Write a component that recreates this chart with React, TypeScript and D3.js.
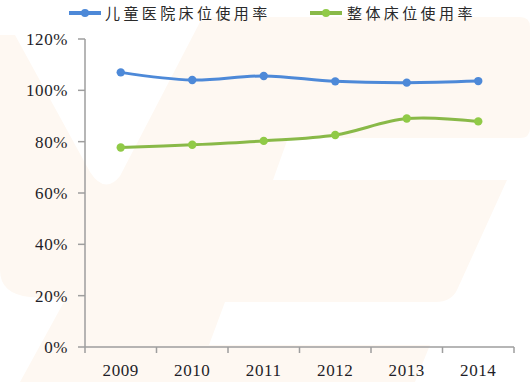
import React from "react";
import * as d3 from "d3";

const years = ["2009", "2010", "2011", "2012", "2013", "2014"];
const childrenHospital = [1.07, 1.04, 1.056, 1.035, 1.03, 1.036];
const overall = [0.777, 0.788, 0.803, 0.826, 0.89, 0.879];
const yTicks = [0, 0.2, 0.4, 0.6, 0.8, 1.0, 1.2];
const seriesNames = ["儿童医院床位使用率", "整体床位使用率"];

const W = 530;
const H = 382;
const left = 85;
const right = 514;
const top = 39;
const bottom = 347;

const BLUE = "#4D89D8";
const GREEN_LINE = "#89B948";
const GREEN_DOT = "#90CA47";

const watermark =
  "M200,22 Q202,17 212,17 L520,17 Q530,17 530,27 L530,128 Q530,138 520,138 L288,138 L273,180 L507,180 L457,290 Q451,302 436,302 L225,302 L209,345 L430,345 L415,382 L20,382 L65,300 L30,297 Q0,294 0,270 L0,35 L15,35 L90,172 Q105,195 120,176 Z";

export default function App() {
  const x = d3.scaleBand<string>().domain(years).range([left, right]).padding(0);
  const y = d3.scaleLinear().domain([0, 1.2]).range([bottom, top]);
  const cx = (yr: string) => (x(yr) as number) + x.bandwidth() / 2;

  const line = d3
    .line<number>()
    .x((_, i) => cx(years[i]))
    .y((v) => y(v))
    .curve(d3.curveCatmullRom.alpha(0.5));

  const boundaries = [...years.map((yr) => x(yr) as number), right];

  const series = [
    { name: seriesNames[0], values: childrenHospital, line: BLUE, dot: BLUE, lx: 69, tx: 105 },
    { name: seriesNames[1], values: overall, line: GREEN_LINE, dot: GREEN_DOT, lx: 310, tx: 347 },
  ];

  return (
    <svg
      width={W}
      height={H}
      style={{ position: "absolute", left: 0, top: 0, background: "#fff" }}
    >
      <path d={watermark} fill="#FEF8F2" />

      {/* legend */}
      {series.map((s) => (
        <g key={s.name}>
          <line x1={s.lx} x2={s.lx + 32} y1={13} y2={13} stroke={s.line} strokeWidth={4} />
          <circle cx={s.lx + 16} cy={13} r={4} fill={s.dot} />
          <text
            x={s.tx}
            y={19}
            fontFamily="'Noto Sans CJK SC', sans-serif"
            fontSize={15}
            letterSpacing={3.4}
            fill="#2A2A2A"
          >
            {s.name}
          </text>
        </g>
      ))}

      {/* y axis */}
      <line x1={left} x2={left} y1={top} y2={bottom} stroke="#9E9E9E" strokeWidth={1.5} />
      {yTicks.map((t) => (
        <g key={t}>
          <line x1={78} x2={left} y1={y(t)} y2={y(t)} stroke="#9E9E9E" strokeWidth={1.5} />
          <text
            x={68}
            y={y(t)}
            dy="0.35em"
            textAnchor="end"
            fontFamily="'Liberation Serif', 'Times New Roman', serif"
            fontSize={17}
            letterSpacing={0.6}
            fill="#1E1E28"
          >
            {`${Math.round(t * 100)}%`}
          </text>
        </g>
      ))}

      {/* x axis */}
      <line x1={left} x2={right} y1={bottom} y2={bottom} stroke="#9E9E9E" strokeWidth={1.5} />
      {boundaries.map((b, i) => (
        <line key={i} x1={b} x2={b} y1={bottom} y2={bottom + 6} stroke="#9E9E9E" strokeWidth={1.5} />
      ))}
      {years.map((yr) => (
        <text
          key={yr}
          x={cx(yr)}
          y={376}
          textAnchor="middle"
          fontFamily="'Liberation Serif', 'Times New Roman', serif"
          fontSize={17}
          letterSpacing={0.6}
          fill="#1E1E28"
        >
          {yr}
        </text>
      ))}

      {/* series */}
      {series.map((s) => (
        <g key={s.name + "-series"}>
          <path d={line(s.values) || ""} fill="none" stroke={s.line} strokeWidth={3} />
          {s.values.map((v, i) => (
            <circle key={i} cx={cx(years[i])} cy={y(v)} r={4.2} fill={s.dot} />
          ))}
        </g>
      ))}
    </svg>
  );
}
